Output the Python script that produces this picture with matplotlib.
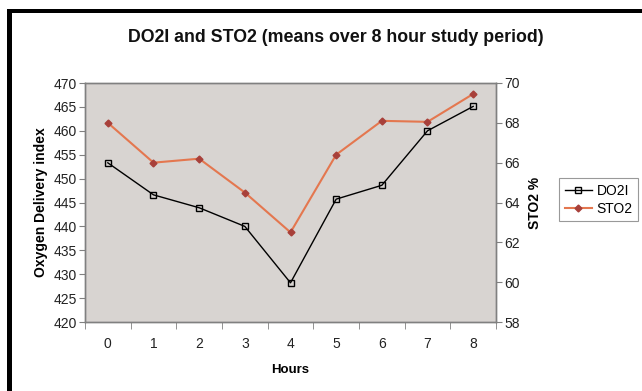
import matplotlib
matplotlib.use("Agg")
import matplotlib.pyplot as plt
from matplotlib.patches import Rectangle

plt.rcParams['font.family'] = ['Liberation Sans', 'DejaVu Sans']

hours = ['0', '1', '2', '3', '4', '5', '6', '7', '8']
do2i = [453.3, 446.6, 443.9, 440.0, 428.2, 445.7, 448.6, 460.0, 465.1]
sto2 = [68.0, 66.0, 66.2, 64.5, 62.5, 66.4, 68.1, 68.05, 69.45]

W, H = 642, 391
fig = plt.figure(figsize=(W / 100, H / 100), dpi=100)
fig.patch.set_facecolor('white')

# black frame on left and top
fig.add_artist(Rectangle((7 / W, 0), 5 / W, (H - 9) / H, transform=fig.transFigure,
                         facecolor='black', edgecolor='none'))
fig.add_artist(Rectangle((7 / W, (H - 13) / H), 1 - 7 / W, 4 / H, transform=fig.transFigure,
                         facecolor='black', edgecolor='none'))

ax = fig.add_axes([85 / W, (H - 322) / H, (496 - 85) / W, (322 - 83) / H])
ax.set_facecolor('#d8d4d1')
x = list(range(len(hours)))

l1, = ax.plot(x, do2i, color='black', lw=1.0, marker='s', markersize=5,
              markerfacecolor='none', markeredgecolor='black', markeredgewidth=1.0,
              label='DO2I')
ax.set_ylim(420, 470)
ax.set_yticks(range(420, 471, 5))
ax.set_xlim(-0.5, len(hours) - 0.5)
ax.set_xticks(x)
ax.set_xticklabels(hours)
ax.set_xticks([i - 0.5 for i in range(len(hours) + 1)], minor=True)
ax.tick_params(axis='x', which='major', length=0, pad=11, labelsize=10, colors='#222222')
ax.tick_params(axis='x', which='minor', length=5, direction='out', color='#808080')
ax.tick_params(axis='y', length=4, direction='out', color='#808080', labelsize=10,
               colors='#222222', pad=2)

ax2 = ax.twinx()
l2, = ax2.plot(x, sto2, color='#e4774f', lw=1.5, marker='D', markersize=3.5,
               markerfacecolor='#a8403a', markeredgecolor='#a8403a', label='STO2')
ax2.set_ylim(58, 70)
ax2.set_yticks(range(58, 71, 2))
ax2.tick_params(axis='y', length=4, direction='out', color='#808080', labelsize=10,
                colors='#222222', pad=2)

for a in (ax, ax2):
    for s in a.spines.values():
        s.set_color('#808080')
        s.set_linewidth(1.0)

ax.set_xlabel('Hours', fontsize=9.5, fontweight='bold', labelpad=9)
ax.set_ylabel('Oxygen Delivery index', fontsize=10, fontweight='bold', labelpad=4)
ax2.set_ylabel('STO2 %', fontsize=10, fontweight='bold', labelpad=6)

fig.text(336 / W, (H - 38) / H, 'DO2I and STO2 (means over 8 hour study period)',
         ha='center', va='center', fontsize=12.8, fontweight='bold', color='#111111')

leg = fig.legend(handles=[l1, l2], loc='upper left',
                 bbox_to_anchor=(559 / W, (H - 178) / H), fontsize=10,
                 frameon=True, fancybox=False, handlelength=2.0, handletextpad=0.3,
                 borderpad=0.4, labelspacing=0.3, borderaxespad=0)
leg.get_frame().set_edgecolor('#808080')
leg.get_frame().set_linewidth(0.8)

fig.savefig('out.png', dpi=100, facecolor='white')
